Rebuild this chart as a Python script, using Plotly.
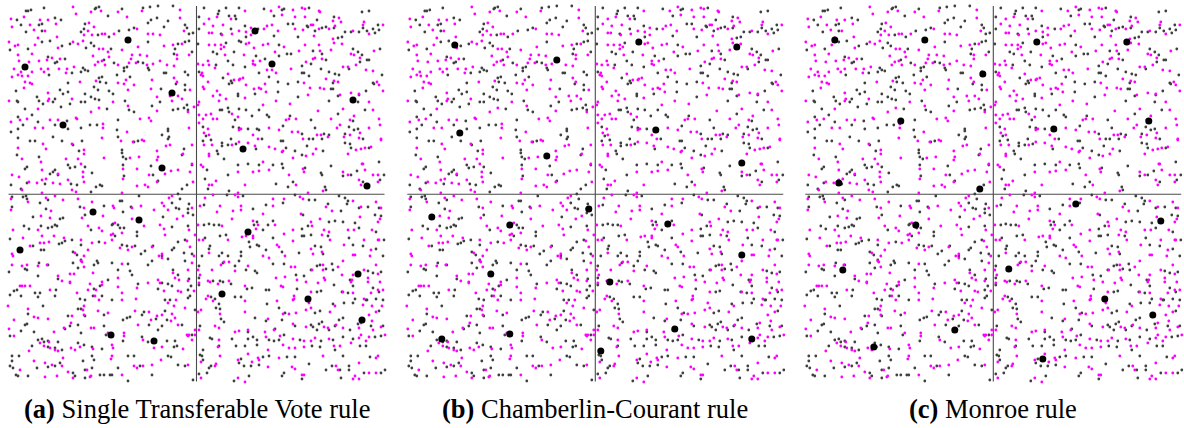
import plotly.graph_objects as go

# Voter positions (x, y) in the issue plane, y growing downward; the same
# electorate is used for all three rules.  Split by quadrant for readability.
magenta_nw = [(68,5),(71,12),(86,10),(96,9),(113,10),(137,9),(122,15),(175,8),(175,16),(6,17),(19,15),(7,25),(25,23),(35,18),(43,18),(51,22),(29,28),(40,29),(84,21),(89,25),(83,29),(79,33),(87,33),(97,32),(100,32),(109,32),(132,27),(143,32),(148,32),(155,33),(179,29),
    (4,40),(10,44),(13,43),(27,52),(33,36),(30,43),(52,35),(53,46),(68,40),(73,42),(78,39),(94,47),(98,47),(103,50),(88,54),(133,45),(159,44),(168,43),(177,42),(117,48),(127,53),(135,53),(142,54),(172,53),(184,53),
    (13,53),(14,59),(9,67),(13,73),(16,70),(24,60),(27,70),(34,59),(42,58),(47,56),(36,67),(39,70),(43,67),(55,57),(54,67),(62,67),(61,71),(69,65),(90,63),(93,60),(97,59),(100,63),(104,55),(113,63),(124,61),(126,57),(131,61),(142,63),(148,62),(155,59),(162,63),(169,64),(172,57),
    (7,75),(17,74),(20,80),(25,81),(19,86),(23,74),(27,82),(43,91),(75,80),(91,79),(113,81),(119,82),(121,78),(123,88),(129,83),(147,78),(146,87),(152,95),(172,80),(169,76),(185,88),(173,94),(177,97),(165,94),
    (4,99),(33,107),(43,99),(44,97),(67,97),(71,116),(86,110),(94,106),(108,100),(123,104),(152,109),(183,110),(167,99),(189,105),
    (6,120),(15,118),(22,117),(30,126),(38,126),(45,118),(53,118),(72,117),(98,122),(98,126),(122,130),(135,117),(144,116),(146,119),(184,126),
    (13,146),(38,142),(41,147),(67,142),(79,148),(79,152),(97,136),(116,139),(128,140),(137,138),(139,139),(161,144),(165,143),(152,149),(187,143),(178,152),
    (17,157),(36,160),(37,168),(53,172),(61,157),(73,157),(76,162),(78,170),(99,156),(125,156),(134,155),(118,167),(132,167),(153,155),(152,158),(173,168),(166,169),(144,173),(187,162),
    (7,173),(14,175),(24,180),(17,188),(32,181),(37,178),(41,177),(37,191),(48,181),(55,182),(63,178),(67,188),(78,175),(79,180),(71,190),(118,177),(117,191),(132,184),(140,183),(143,185),(152,180),(160,172),(185,170),(188,180)]

gray_nw = [(21,9),(23,9),(26,8),(39,6),(91,6),(94,5),(90,7),(103,14),(117,7),(138,6),(145,5),(153,4),(168,4),(163,19),(12,18),(16,23),(34,23),(37,22),(50,16),(56,18),(21,30),(37,29),(80,22),(79,27),(76,30),(93,33),(104,35),(114,29),(124,28),(129,26),(143,21),(146,18),(152,16),(159,25),(180,23),(182,26),(184,32),(188,31),
    (5,48),(23,47),(37,40),(45,39),(57,44),(65,42),(81,46),(86,41),(89,44),(106,47),(143,40),(170,47),(173,42),(180,40),(184,39),(169,52),(187,50),
    (43,55),(50,61),(52,60),(44,73),(60,57),(67,71),(76,70),(78,66),(80,68),(83,69),(99,58),(109,61),(119,66),(119,69),(122,65),(133,60),(138,61),(143,66),(144,68),(159,71),(161,71),(180,70),(183,73),
    (11,89),(32,95),(55,88),(58,92),(63,90),(63,81),(80,92),(89,85),(94,76),(95,80),(97,75),(101,81),(93,88),(104,89),(108,92),(125,75),(156,87),(171,82),(180,88),(180,83),(112,73),
    (12,99),(13,100),(20,107),(34,99),(38,102),(48,100),(50,97),(56,105),(65,102),(76,100),(80,100),(86,95),(90,97),(94,98),(102,107),(120,99),(129,110),(124,108),(147,104),(155,100),(168,108),(173,107),(179,106),(183,108),(182,103),
    (13,115),(18,123),(13,127),(6,130),(27,113),(33,120),(50,123),(63,127),(62,119),(76,126),(85,123),(92,123),(113,118),(112,128),(163,127),(163,129),(157,133),
    (13,136),(25,139),(30,139),(48,135),(57,139),(68,143),(77,139),(74,149),(113,135),(117,148),(117,151),(129,140),(133,139),(164,135),(163,137),(179,147),
    (12,153),(22,165),(20,167),(34,155),(45,172),(48,170),(50,168),(53,173),(63,163),(65,166),(70,165),(80,165),(118,155),(121,157),(118,163),(146,164),(148,173),(187,163),(177,153),
    (6,183),(16,187),(22,181),(40,182),(66,182),(72,183),(87,171),(86,190),(91,185),(95,183),(97,184),(119,174),(153,179),(177,187),(182,183),(173,192)]

magenta_ne = [(204,17),(212,15),(226,17),(199,22),(208,24),(218,23),(266,9),(274,5),(277,13),(288,8),(290,15),(297,6),(300,7),(300,15),(314,9),(315,10),(334,16),(328,19),(359,20),(336,20),(240,9),
    (204,31),(207,31),(217,33),(227,32),(234,29),(241,30),(246,26),(246,33),(259,27),(262,24),(267,23),(273,29),(290,27),(298,28),(306,23),(308,23),(314,27),(324,27),(330,24),(348,29),(358,23),(364,32),(378,23),(309,34),(328,37),
    (204,43),(210,43),(216,43),(219,45),(216,47),(220,53),(241,42),(244,41),(249,46),(258,43),(263,42),(270,50),(279,45),(294,49),(300,43),(314,43),(315,49),(326,48),(329,41),(337,42),(346,52),(349,53),(355,56),(369,49),(239,53),(248,59),(310,56),(317,57),
    (193,62),(198,63),(203,59),(196,73),(198,74),(197,71),(204,63),(210,66),(223,72),(229,78),(234,78),(238,76),(248,62),(250,63),(255,59),(262,68),(267,68),(271,71),(286,67),(301,60),(308,57),(338,65),(343,65),(351,63),(361,68),(368,69),(372,80),(329,79),(333,80),(321,77),(299,81),(241,83),(235,77),(203,80),
    (198,85),(199,87),(212,89),(208,94),(215,93),(221,97),(214,99),(240,96),(249,87),(254,86),(256,87),(260,82),(261,90),(271,99),(303,93),(305,86),(315,86),(319,87),(335,93),(354,92),(346,91),(364,100),(374,83),(378,89),(194,100),(193,103),
    (201,113),(206,112),(227,112),(233,115),(258,103),(285,102),(281,118),(284,117),(291,117),(313,109),(326,117),(338,107),(349,114),(345,118),(368,108),(374,117),(375,123),(198,117),(194,113),(208,117),(212,117),(194,121),
    (199,131),(204,133),(203,127),(234,128),(236,127),(248,133),(253,137),(264,126),(274,128),(287,130),(293,130),(298,137),(312,133),(316,133),(323,135),(332,126),(335,123),(345,133),(355,131),(354,136),(364,126),(376,137),(339,135),
    (199,143),(204,152),(204,154),(207,143),(227,143),(234,140),(243,141),(250,144),(264,145),(270,147),(277,150),(278,149),(301,154),(308,152),(288,156),(311,147),(351,148),(356,147),(360,146),(366,145),(343,152),(376,138),(358,162),
    (196,163),(198,165),(204,183),(207,183),(211,179),(233,191),(240,183),(233,170),(248,170),(254,169),(258,160),(264,168),(284,173),(291,183),(298,167),(299,170),(303,191),(318,189),(338,170),(343,173),(357,162),(360,168),(354,178),(356,183),(368,173),(373,173),(373,180)]

gray_ne = [(199,6),(194,15),(213,12),(214,9),(221,6),(224,14),(230,14),(234,6),(231,17),(259,7),(269,14),(277,8),(279,7),(304,6),(312,18),(329,15),(357,10),(364,9),(373,23),
    (194,27),(216,32),(226,27),(240,24),(241,35),(253,27),(269,34),(283,22),(288,22),(293,35),(302,24),(303,25),(310,29),(317,26),(321,25),(329,26),(337,35),(340,30),(346,30),(354,30),(358,26),(362,29),(368,27),(370,31),(374,28),(333,36),
    (193,42),(208,50),(212,52),(221,41),(229,50),(234,39),(236,40),(274,43),(282,52),(286,52),(308,49),(317,52),(348,47),(353,50),(357,53),(375,47),(251,54),(260,57),(274,54),(321,58),
    (194,70),(211,63),(223,59),(228,63),(218,76),(226,79),(240,65),(254,71),(297,64),(297,71),(299,71),(306,62),(304,74),(316,67),(324,70),(330,72),(334,73),(344,67),(355,60),(362,58),(364,58),(377,73),(368,81),(328,81),(293,80),(283,82),(273,80),(264,75),
    (224,82),(227,81),(233,92),(233,94),(250,92),(273,90),(293,95),(326,87),(328,87),(333,94),(324,99),(354,93),(361,89),(353,100),(369,82),
    (215,108),(217,108),(223,106),(224,110),(234,107),(241,108),(247,114),(254,108),(262,113),(264,115),(285,114),(306,118),(333,112),(360,108),(348,119),(230,118),(198,125),
    (201,134),(206,138),(228,125),(234,126),(243,127),(252,127),(257,137),(254,128),(278,124),(297,132),(304,137),(308,137),(310,126),(317,137),(319,132),(324,133),(344,125),(349,128),(353,127),(358,137),(340,132),
    (198,139),(212,149),(213,152),(217,144),(217,141),(223,143),(226,137),(231,142),(219,157),(251,147),(276,139),(281,146),(290,149),(297,153),(302,144),(278,139),(318,149),(340,141),(345,142),(346,146),(364,146),
    (202,168),(200,177),(203,187),(224,189),(223,173),(233,163),(243,162),(254,163),(268,163),(277,162),(278,166),(271,182),(288,180),(283,185),(300,166),(316,171),(317,173),(320,185),(321,188),(326,164),(338,174),(346,173),(352,169),(358,180),(375,178),(379,173),(374,160)]

magenta_sw = [(6,197),(23,200),(41,196),(50,194),(58,198),(73,197),(6,208),(46,209),(79,206),(77,216),(87,200),(108,204),(109,206),(127,206),(136,204),(149,208),(163,208),(164,196),(167,194),(187,206),(98,214),(127,217),(157,201),(159,204),
    (36,214),(8,228),(33,228),(45,216),(83,224),(110,221),(106,233),(108,232),(94,226),(97,229),(117,231),(139,224),(155,223),(160,233),(159,227),(172,217),(178,214),(184,228),(190,233),(18,236),
    (7,252),(8,254),(25,244),(35,241),(39,241),(44,240),(59,236),(49,234),(37,234),(76,238),(87,241),(83,248),(100,241),(107,238),(115,246),(127,245),(123,248),(147,245),(154,254),(157,252),(182,239),(185,245),(70,251),(79,254),
    (7,263),(17,264),(22,263),(33,264),(42,263),(53,274),(57,279),(65,272),(76,259),(88,271),(117,262),(113,276),(143,281),(157,256),(168,271),(170,276),(174,278),(183,279),(187,261),(183,268),(189,254),(65,281),(79,265),(77,260),(69,272),
    (15,284),(17,284),(20,284),(25,284),(45,288),(65,280),(85,282),(83,288),(91,288),(97,283),(97,280),(113,285),(132,286),(155,281),(159,289),(173,289),(176,290),(153,278),(117,291),
    (72,291),(94,298),(90,294),(117,298),(131,297),(171,298),(169,304),(163,301),(189,289),(180,306),(3,304),(23,307),(29,315),(33,316),(67,314),(79,304),(78,308),(79,313),(93,309),(103,311),(130,309),(144,310),(152,314),(157,313),(167,312),(170,316),(9,318),
    (4,327),(43,317),(59,326),(66,321),(86,326),(89,326),(103,331),(133,323),(146,318),(173,323),(166,319),(182,333),(184,333),(190,328),(9,334),(44,340),(49,330),
    (24,349),(35,341),(39,344),(45,346),(50,348),(53,349),(66,346),(70,348),(75,345),(88,347),(108,346),(107,343),(119,331),(119,334),(138,338),(149,346),(157,345),(183,334),(187,338),(190,333),(178,347),
    (15,368),(29,359),(40,361),(47,363),(58,356),(57,364),(63,370),(82,368),(85,375),(107,354),(106,357),(117,373),(129,364),(138,364),(147,363),(156,358),(183,363),(52,374),(40,375),(68,376),(86,374),(132,366)]

gray_sw = [(7,195),(18,195),(21,194),(22,197),(35,201),(43,198),(7,205),(41,207),(75,205),(80,213),(99,204),(115,199),(117,199),(126,205),(134,194),(175,197),(167,201),(171,206),(174,207),(184,202),(183,207),(118,210),(188,213),(183,211),(158,215),
    (28,215),(19,224),(24,227),(36,224),(43,226),(47,225),(50,223),(52,224),(55,217),(58,216),(86,228),(107,223),(108,222),(113,223),(115,226),(119,226),(132,230),(132,234),(167,225),(183,224),(5,237),(110,234),
    (28,244),(36,248),(39,248),(54,242),(57,241),(60,239),(67,238),(76,243),(94,240),(117,243),(122,244),(130,244),(136,252),(140,249),(148,244),(157,254),(173,240),(180,238),(169,246),(167,248),(179,251),(187,252),(68,250),(72,253),
    (4,270),(22,268),(20,267),(34,261),(43,263),(33,274),(53,277),(68,261),(76,258),(89,263),(93,261),(92,259),(107,261),(123,262),(125,269),(127,273),(113,268),(103,278),(143,263),(147,259),(163,257),(168,268),(173,273),(184,277),(180,259),(73,266),
    (9,289),(12,288),(30,291),(35,291),(51,288),(89,287),(95,284),(133,282),(153,287),(157,281),(163,282),(167,284),(183,288),(186,284),(75,297),(80,298),
    (5,293),(16,294),(33,295),(50,294),(88,294),(97,294),(107,298),(160,298),(165,298),(183,296),(185,294),(190,308),(23,312),(38,304),(63,314),(73,307),(76,307),(80,314),(99,313),(139,310),(137,313),(151,317),(160,309),(162,318),
    (16,329),(20,323),(22,322),(65,324),(73,323),(76,331),(99,324),(101,333),(118,318),(122,316),(125,315),(144,323),(153,328),(157,324),(177,323),(5,334),(29,330),(33,338),(37,337),(39,340),(43,339),(53,340),(60,327),
    (27,344),(43,345),(50,346),(57,348),(73,341),(79,343),(87,345),(97,347),(118,339),(143,340),(137,335),(162,339),(170,339),(172,344),(169,345),(187,333),(14,354),(7,354),
    (7,359),(5,364),(8,366),(11,373),(32,366),(43,365),(50,364),(55,361),(68,371),(70,374),(78,359),(87,354),(89,358),(80,368),(80,376),(87,366),(95,373),(99,373),(105,373),(113,366),(123,354),(129,354),(135,364),(147,373),(163,354),(166,355),(173,363),(180,364),(188,378),(23,374),(13,374),(107,373),(123,379)]

magenta_se = [(200,196),(195,204),(233,195),(268,197),(279,197),(268,204),(215,204),(212,210),(228,209),(236,204),(236,208),(258,212),(295,195),(298,197),(296,212),(321,205),(327,209),(348,199),(356,205),(371,200),(376,206),(355,215),(208,193),(230,193),
    (193,223),(217,224),(227,217),(248,219),(253,223),(251,227),(270,223),(279,232),(288,228),(306,220),(307,224),(315,217),(319,228),(317,233),(324,230),(343,228),(349,228),(367,228),(373,220),(375,217),(374,238),
    (194,238),(198,238),(204,251),(223,238),(237,235),(241,234),(248,236),(248,234),(258,254),(272,243),(274,245),(280,254),(288,239),(306,247),(308,252),(317,250),(325,238),(339,243),(348,253),(350,253),(359,238),(366,248),(373,238),
    (193,268),(195,273),(207,268),(216,263),(219,260),(224,260),(230,269),(243,264),(264,256),(286,265),(290,265),(271,276),(280,275),(292,278),(301,280),(307,268),(318,263),(318,268),(319,276),(333,265),(338,259),(337,273),(347,278),(348,273),(359,268),(363,276),(373,272),(375,280),(365,254),(371,263),
    (203,279),(205,280),(213,282),(224,279),(240,284),(276,284),(278,285),(289,294),(289,297),(306,290),(320,278),(313,281),(338,290),(346,280),(348,291),(363,280),(373,288),(378,288),(366,291),(194,281),
    (201,297),(203,294),(208,299),(193,310),(196,308),(240,299),(240,310),(272,299),(278,312),(284,312),(291,311),(288,298),(301,308),(306,306),(304,301),(325,310),(330,304),(358,303),(359,297),(367,304),(371,310),(377,304),(364,313),(367,319),
    (215,312),(214,326),(210,324),(263,317),(288,322),(301,325),(319,325),(323,326),(331,323),(338,326),(354,326),(356,321),(368,328),(376,325),(380,333),(269,328),(243,328),
    (194,328),(214,338),(234,329),(230,330),(260,330),(261,335),(263,348),(275,334),(288,337),(299,339),(306,339),(310,336),(324,337),(335,344),(329,344),(346,341),(354,336),(361,339),(364,335),(356,333),(213,345),(278,343),(284,346),(299,345),(290,346),
    (196,360),(211,362),(210,364),(215,354),(196,376),(233,358),(243,352),(247,360),(253,356),(254,358),(263,365),(233,376),(240,380),(274,356),(287,365),(290,367),(297,373),(299,373),(318,354),(331,364),(333,368),(354,361),(350,374),(354,377),(348,377),(364,371),(371,371),(373,354),(371,356)]

gray_se = [(199,203),(222,193),(238,194),(278,201),(261,203),(248,207),(290,193),(304,198),(310,198),(298,213),(323,202),(334,194),(340,196),(343,199),(363,205),(354,206),(336,209),(342,202),(374,206),(370,213),
    (199,223),(204,222),(209,223),(214,223),(221,233),(215,234),(249,223),(252,220),(258,228),(263,223),(268,219),(303,224),(297,227),(299,234),(306,233),(324,220),(330,219),(338,220),(350,221),(354,226),(376,214),(371,230),
    (200,236),(205,244),(204,247),(197,254),(217,251),(214,254),(223,254),(236,250),(236,254),(244,240),(245,245),(252,243),(254,244),(261,248),(268,236),(277,250),(294,251),(297,234),(310,244),(316,245),(318,252),(323,234),(344,236),(348,243),(358,244),(371,247),(379,238),(378,254),
    (194,264),(194,276),(218,261),(230,264),(234,259),(241,268),(250,269),(252,271),(268,262),(279,262),(291,273),(299,274),(306,268),(312,264),(315,263),(321,267),(327,262),(328,268),(345,278),(363,269),(368,271),(376,270),
    (208,279),(215,279),(218,280),(226,282),(242,287),(247,286),(261,288),(264,288),(292,287),(312,290),(316,289),(329,283),(337,290),(343,291),(348,284),(350,297),(368,286),(374,290),(371,297),(361,298),(194,283),
    (206,295),(210,297),(214,302),(211,306),(215,307),(230,295),(236,295),(262,302),(274,306),(280,311),(310,311),(315,309),(328,302),(339,301),(348,301),(362,298),(374,309),(378,298),(338,316),(334,318),
    (195,324),(216,317),(219,320),(250,316),(261,319),(277,318),(290,324),(306,323),(308,325),(314,322),(317,320),(312,328),(324,328),(330,324),(353,322),(345,328),(366,324),(378,324),(270,327),(243,330),
    (205,336),(207,337),(227,337),(243,337),(248,335),(252,338),(252,343),(264,338),(269,339),(274,338),(279,333),(295,338),(307,344),(316,339),(328,338),(338,335),(348,337),(355,344),(361,344),(370,335),(376,334),(214,344),(231,344),(240,344),(315,345),(330,348),
    (195,353),(198,348),(197,354),(198,358),(206,364),(204,366),(202,371),(194,372),(234,361),(236,357),(239,364),(258,355),(264,354),(246,364),(254,363),(244,374),(229,379),(279,371),(277,374),(282,355),(290,355),(297,377),(304,362),(321,368),(327,364),(335,368),(344,368),(344,364),(336,376),(359,371),(376,371),(380,368),(365,355),(338,354)]

# Elected committees (20 seats) under each rule, same plane
winners_stv = [(123,38),(20,65),(167,91),(58,123),(157,166),(250,29),(267,62),(348,98),(238,147),(362,184),
               (88,210),(134,218),(15,248),(243,230),(353,272),(217,292),(303,297),(357,318),(106,333),(149,339)]
winners_cc = [(51,43),(153,58),(235,40),(333,45),(56,131),(143,154),(252,128),(338,161),(185,207),(28,215),
              (106,223),(264,222),(338,253),(87,272),(206,280),(271,327),(106,332),(38,337),(348,337),(197,349)]
winners_monroe = [(33,38),(123,38),(235,40),(325,40),(181,72),(99,119),(252,127),(347,119),(37,181),(178,187),
                  (274,202),(359,219),(114,223),(41,268),(207,267),(303,297),(351,313),(153,328),(72,345),(241,357)]

panel_titles = ["<b>(a)</b> Single Transferable Vote rule",
                "<b>(b)</b> Chamberlin-Courant rule",
                "<b>(c)</b> Monroe rule"]

magenta_voters = magenta_nw + magenta_ne + magenta_sw + magenta_se
gray_voters = gray_nw + gray_ne + gray_sw + gray_se
committees = [winners_stv, winners_cc, winners_monroe]

W, H = 1184, 428
panel_left = [5, 403.8, 801.8]      # px
panel_top = 2                        # px
x_span, y_span = 380, 384            # plane units == px
center = (191.5, 192.3)              # where the coordinate axes cross
axis_lo, axis_hi = 3.5, 379.5

fig = go.Figure()
layout = dict(width=W, height=H, margin=dict(l=0, r=0, t=0, b=0),
              paper_bgcolor="white", plot_bgcolor="white", showlegend=False)
annotations, shapes = [], []

for i, (winners, title) in enumerate(zip(committees, panel_titles)):
    n = "" if i == 0 else str(i + 1)
    xa, ya = "x" + n, "y" + n
    x0 = panel_left[i] / W
    x1 = (panel_left[i] + x_span) / W
    y1 = 1 - panel_top / H
    y0 = 1 - (panel_top + y_span) / H
    layout["xaxis" + n] = dict(domain=[x0, x1], range=[0, x_span], visible=False, fixedrange=True)
    layout["yaxis" + n] = dict(domain=[y0, y1], range=[y_span, 0], visible=False, fixedrange=True)

    # coordinate axes through the centre of the plane
    shapes.append(dict(type="line", xref=xa, yref=ya, x0=axis_lo, x1=axis_hi, y0=center[1], y1=center[1],
                       line=dict(color="#4a4a4a", width=1.1), layer="below"))
    shapes.append(dict(type="line", xref=xa, yref=ya, x0=center[0], x1=center[0], y0=axis_lo + 0.5, y1=axis_hi,
                       line=dict(color="#4a4a4a", width=1.1), layer="below"))

    fig.add_trace(go.Scatter(x=[p[0] for p in gray_voters], y=[p[1] for p in gray_voters],
                             mode="markers", xaxis=xa, yaxis=ya, cliponaxis=False, hoverinfo="skip",
                             marker=dict(size=2.8, color="#404040", line=dict(width=0))))
    fig.add_trace(go.Scatter(x=[p[0] for p in magenta_voters], y=[p[1] for p in magenta_voters],
                             mode="markers", xaxis=xa, yaxis=ya, cliponaxis=False, hoverinfo="skip",
                             marker=dict(size=2.8, color="#ff00ff", line=dict(width=0))))
    fig.add_trace(go.Scatter(x=[p[0] for p in winners], y=[p[1] for p in winners],
                             mode="markers", xaxis=xa, yaxis=ya, cliponaxis=False, hoverinfo="skip",
                             marker=dict(size=7, color="black", line=dict(width=0))))

    annotations.append(dict(text=title, xref="paper", yref="paper",
                            x=(panel_left[i] + center[0]) / W, y=1 - 409 / H,
                            xanchor="center", yanchor="middle", showarrow=False,
                            font=dict(family="Liberation Serif", size=26.5, color="black")))

layout["annotations"] = annotations
layout["shapes"] = shapes
fig.update_layout(**layout)
fig.write_html("out.html")
